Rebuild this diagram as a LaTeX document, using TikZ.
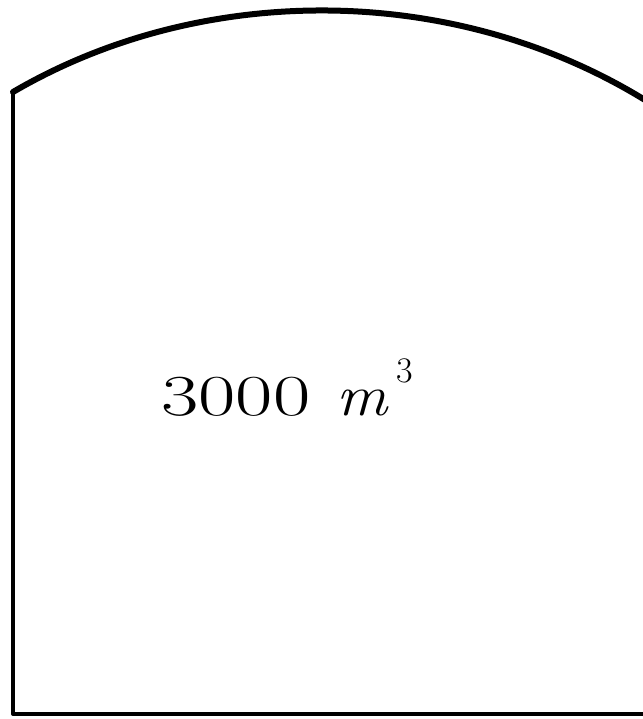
\documentclass[tikz,border=0pt]{standalone}
\usepackage{fontspec}
\tikzset{
  wall/.style={line width=4pt, line cap=round, line join=round},
  arch/.style={line width=6pt, line cap=round},
  label/.style={inner sep=0pt, font=\fontsize{58}{60}\selectfont}
}
\begin{document}
\begin{tikzpicture}[x=1pt,y=-1pt]
\useasboundingbox (0,0) rectangle (642,719);
\coordinate (bl) at (13,714);
\coordinate (tl) at (13,92);
\coordinate (tr) at (645,100);
\coordinate (br) at (645,714);
\draw[wall] (tl) -- (bl) -- (br);
\draw[arch] (tl) .. controls (201,-18) and (453,-18) .. (tr);
\node[label, anchor=base west, xscale=1.4] (num) at (161,415) {3000};
\node[label, anchor=base west, xscale=1.1] (unit) at (336,415) {\textit{m}};
\node[inner sep=0pt, font=\fontsize{36}{38}\selectfont, anchor=base west] (exp) at (396,382) {3};
\end{tikzpicture}
\end{document}
